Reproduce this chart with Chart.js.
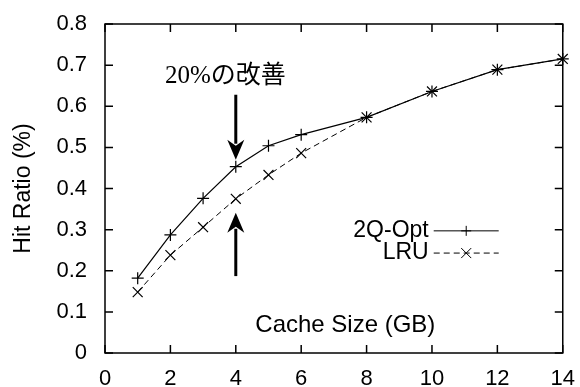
<!DOCTYPE html>
<html>
<head>
<meta charset="utf-8">
<script src="https://cdn.jsdelivr.net/npm/chart.js@4"></script>
<style>
  body { margin: 0; background: #fff; }
</style>
</head>
<body>
<canvas id="myChart" width="580" height="387"></canvas>
<script>
// data
var cacheSize = [1, 2, 3, 4, 5, 6, 8, 10, 12, 14];
var opt2Q = [0.182, 0.287, 0.376, 0.453, 0.504, 0.531, 0.573, 0.636, 0.689, 0.715];
var lru = [0.148, 0.238, 0.306, 0.375, 0.433, 0.486, 0.573, 0.636, 0.689, 0.715];
var seriesNames = ['2Q-Opt', 'LRU'];
var xTitle = 'Cache Size (GB)';
var yTitle = 'Hit Ratio (%)';
var noteText = '20%の改善';
// note and arrows, in data units
var noteAt = [3.68, 0.672];
var downArrow = [4, 0.628, 0.470];
var upArrow = [4, 0.187, 0.341];

var fontName = '"Liberation Sans", Arial, sans-serif';

function toPoints(xs, ys) {
    return xs.map(function (x, i) { return { x: x, y: ys[i] }; });
}

function arrow(ctx, x, yFrom, yTo) {
    var dir = yTo > yFrom ? 1 : -1;
    var headLen = 20, headW = 8.5;
    ctx.beginPath();
    ctx.lineWidth = 3;
    ctx.moveTo(x, yFrom);
    ctx.lineTo(x, yTo - dir * headLen * 0.8);
    ctx.stroke();
    ctx.beginPath();
    ctx.moveTo(x, yTo);
    ctx.lineTo(x - headW, yTo - dir * headLen);
    ctx.lineTo(x, yTo - dir * headLen * 0.7);
    ctx.lineTo(x + headW, yTo - dir * headLen);
    ctx.closePath();
    ctx.fill();
}

var framePlugin = {
    id: 'frame',
    afterDraw: function (chart) {
        var ctx = chart.ctx;
        var a = chart.chartArea;
        var xs = chart.scales.x, ys = chart.scales.y;
        ctx.save();
        ctx.strokeStyle = '#000';
        ctx.fillStyle = '#000';
        ctx.lineWidth = 1.5;
        ctx.strokeRect(a.left, a.top, a.right - a.left, a.bottom - a.top);
        // inward ticks on all four sides
        var t = 8;
        ctx.beginPath();
        xs.ticks.forEach(function (tk) {
            var px = xs.getPixelForValue(tk.value);
            ctx.moveTo(px, a.bottom); ctx.lineTo(px, a.bottom - t);
            ctx.moveTo(px, a.top); ctx.lineTo(px, a.top + t);
        });
        ys.ticks.forEach(function (tk) {
            var py = ys.getPixelForValue(tk.value);
            ctx.moveTo(a.left, py); ctx.lineTo(a.left + t, py);
            ctx.moveTo(a.right, py); ctx.lineTo(a.right - t, py);
        });
        ctx.stroke();

        // x axis title, inside the plot
        ctx.font = '24px ' + fontName;
        ctx.textAlign = 'center';
        ctx.textBaseline = 'middle';
        ctx.fillText(xTitle, xs.getPixelForValue(7.35), ys.getPixelForValue(0.068));

        // legend inside the plot
        ctx.font = '23px ' + fontName;
        var lx = xs.getPixelForValue(9.9);
        var lineL = lx + 5, lineR = lx + 70;
        var rows = [ys.getPixelForValue(0.297), ys.getPixelForValue(0.243)];
        chart.data.datasets.forEach(function (ds, i) {
            var y = rows[i];
            ctx.textAlign = 'right';
            ctx.fillText(ds.label, lx, y);
            ctx.beginPath();
            ctx.lineWidth = 1;
            ctx.setLineDash(ds.borderDash || []);
            ctx.moveTo(lineL, y); ctx.lineTo(lineR, y);
            ctx.stroke();
            ctx.setLineDash([]);
            var mx = (lineL + lineR) / 2;
            var r = 5;
            ctx.beginPath();
            if (ds.pointStyle === 'cross') {
                ctx.moveTo(mx - r, y); ctx.lineTo(mx + r, y);
                ctx.moveTo(mx, y - r); ctx.lineTo(mx, y + r);
            } else {
                ctx.moveTo(mx - r, y - r); ctx.lineTo(mx + r, y + r);
                ctx.moveTo(mx - r, y + r); ctx.lineTo(mx + r, y - r);
            }
            ctx.stroke();
        });

        // annotation
        ctx.font = '25px "Liberation Serif", "Noto Sans CJK JP", serif';
        ctx.textAlign = 'center';
        ctx.fillText(noteText, xs.getPixelForValue(noteAt[0]), ys.getPixelForValue(noteAt[1]));
        arrow(ctx, xs.getPixelForValue(downArrow[0]), ys.getPixelForValue(downArrow[1]), ys.getPixelForValue(downArrow[2]));
        arrow(ctx, xs.getPixelForValue(upArrow[0]), ys.getPixelForValue(upArrow[1]), ys.getPixelForValue(upArrow[2]));
        ctx.restore();
    }
};

window.onload = function () {
    var ctx = document.getElementById('myChart').getContext('2d');
    new Chart(ctx, {
        type: 'line',
        data: {
            datasets: [{
                label: seriesNames[0],
                data: toPoints(cacheSize, opt2Q),
                borderColor: '#000',
                borderWidth: 1.2,
                pointStyle: 'cross',
                pointRadius: 6,
                pointBorderColor: '#000',
                pointBorderWidth: 1.2,
                fill: false,
                tension: 0
            }, {
                label: seriesNames[1],
                data: toPoints(cacheSize, lru),
                borderColor: '#000',
                borderWidth: 1,
                borderDash: [6, 4],
                pointStyle: 'crossRot',
                pointRadius: 7,
                pointBorderColor: '#000',
                pointBorderWidth: 1.2,
                fill: false,
                tension: 0
            }]
        },
        options: {
            responsive: false,
            animation: false,
            clip: false,
            layout: { padding: { top: 24, right: 15, left: 0, bottom: 0 } },
            plugins: { legend: { display: false }, tooltip: { enabled: false } },
            scales: {
                x: {
                    type: 'linear',
                    min: 0, max: 14,
                    grid: { display: false },
                    border: { display: false },
                    ticks: { stepSize: 2, color: '#000', padding: 5, font: { family: fontName, size: 22 } },
                    afterFit: function (s) { s.height = 34; }
                },
                y: {
                    min: 0, max: 0.8,
                    grid: { display: false },
                    border: { display: false },
                    ticks: { stepSize: 0.1, color: '#000', padding: 10, font: { family: fontName, size: 22 } },
                    title: { display: true, text: yTitle, color: '#000', padding: { top: 10 }, font: { family: fontName, size: 23 } },
                    afterFit: function (s) { s.width = 105; }
                }
            }
        },
        plugins: [framePlugin]
    });
};
</script>
</body>
</html>
